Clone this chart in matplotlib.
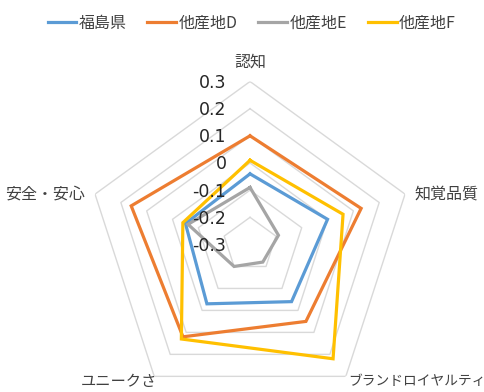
import numpy as np
import matplotlib
matplotlib.use("Agg")
import matplotlib.pyplot as plt
from matplotlib.transforms import offset_copy

plt.rcParams['font.family'] = ['Noto Sans CJK JP', 'DejaVu Sans']

# データ
categories = ["認知", "知覚品質", "ブランドロイヤルティ", "ユニークさ", "安全・安心"]
series_names = ["福島県", "他産地D", "他産地E", "他産地F"]
fukushima = [-0.04, 0.00, -0.04, -0.03, -0.05]
sanchi_d = [0.10, 0.13, 0.05, 0.12, 0.16]
sanchi_e = [-0.09, -0.19, -0.22, -0.20, -0.06]
sanchi_f = [0.01, 0.06, 0.22, 0.13, -0.04]
levels = [-0.3, -0.2, -0.1, 0, 0.1, 0.2, 0.3]
level_labels = ["-0.3", "-0.2", "-0.1", "0", "0.1", "0.2", "0.3"]

colores = ["#5B9BD5", "#ED7D31", "#A5A5A5", "#FFC000"]

fig = plt.figure(figsize=(4.84, 3.92), dpi=100)
ax = fig.add_axes([0.1798, -0.0395, 0.6736, 0.8316], projection="polar")
ax.set_theta_offset(np.pi / 2)
ax.set_theta_direction(-1)
ax.set_ylim(-0.3, 0.3)
ax.grid(False)
ax.spines["polar"].set_visible(False)
ax.set_xticks([])
ax.set_yticks([])
ax.patch.set_visible(False)

n = len(categories)
ang = np.linspace(0, 2 * np.pi, n, endpoint=False)
ang_c = np.append(ang, ang[0])

# anillos pentagonales
for lv in levels[1:]:
    ax.plot(ang_c, [lv] * (n + 1), color="#D9D9D9", lw=1.0, zorder=1)

# series
for nombre, vals, col in zip(series_names, [fukushima, sanchi_d, sanchi_e, sanchi_f], colores):
    v = np.append(vals, vals[0])
    ax.plot(ang_c, v, color=col, lw=2.3, label=nombre, zorder=3, solid_joinstyle="miter")

# etiquetas del eje radial
tr = offset_copy(ax.transData, fig=fig, x=-17, y=-1, units="points")
for lv, lab in zip(levels, level_labels):
    ax.text(0, lv, lab, transform=tr, ha="right", va="center", fontsize=12.5,
            color="#262626", family=["DejaVu Sans"], zorder=5)

# etiquetas de categorias
pos = [(0, 8, "center", "bottom", 11.5), (7, 0, "left", "center", 11.5),
       (1.5, 2, "left", "top", 9.9), (2, 2.5, "right", "top", 11),
       (-7, 0, "right", "center", 11.5)]
for a, cat, (dx, dy, ha, va, fs) in zip(ang, categories, pos):
    t = offset_copy(ax.transData, fig=fig, x=dx, y=dy, units="points")
    ax.text(a, 0.3, cat, transform=t, ha=ha, va=va, fontsize=fs, color="#404040")

fig.legend(loc="center", bbox_to_anchor=(0.52, 0.94), ncol=4, frameon=False,
           fontsize=11.5, handlelength=1.8, handletextpad=0.15, columnspacing=1.3,
           labelcolor="#404040")

fig.savefig("out.png", dpi=100)
